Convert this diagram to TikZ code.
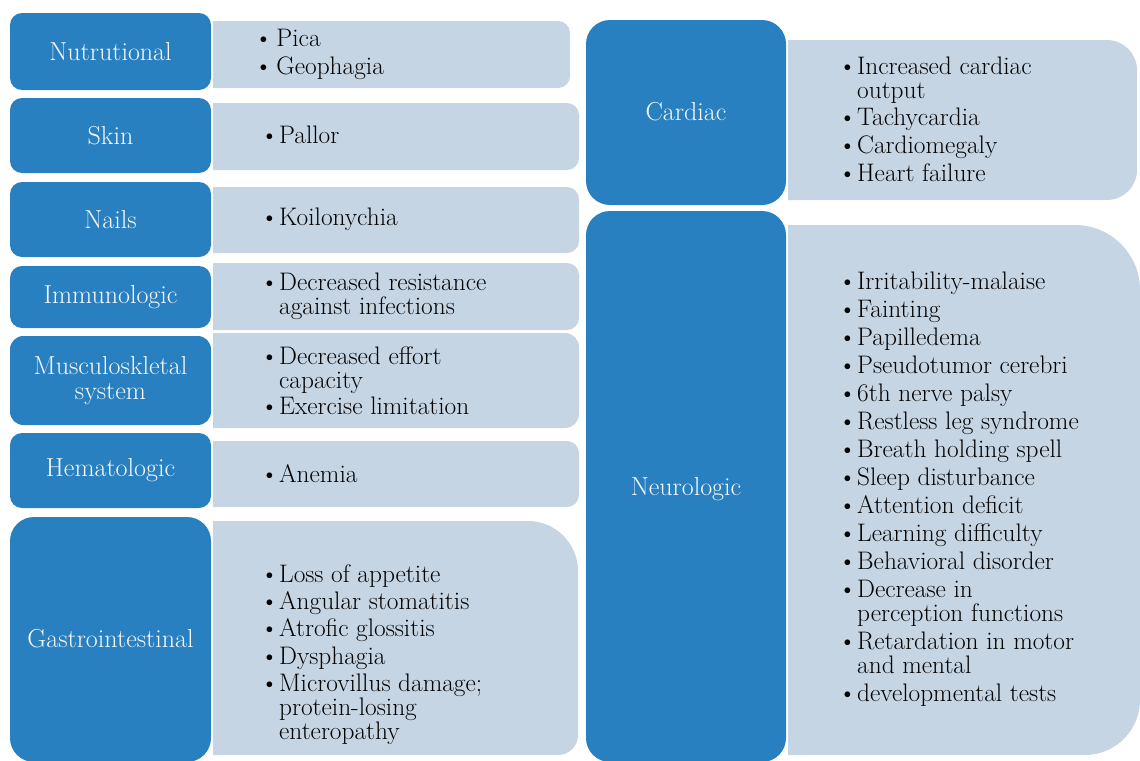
\documentclass[tikz,border=0pt]{standalone}
\usepackage{xcolor}
\definecolor{catblue}{RGB}{40,128,192}
\definecolor{itemgrey}{RGB}{198,213,228}
\definecolor{labelwhite}{RGB}{248,250,252}
\newcommand{\bul}{\textbullet\kern0.5pt}
\newcommand{\hng}{\hphantom{\textbullet\kern0.5pt}}
\tikzset{
  catbox/.style={fill=catblue},
  itembox/.style={fill=itemgrey},
  catlabel/.style={text=labelwhite, font=\fontsize{19.5}{19}\selectfont, align=center, inner sep=0pt},
  itemlist/.style={anchor=west, text=black, font=\fontsize{19}{18}\selectfont, align=left, inner sep=0pt}
}

\begin{document}
\begin{tikzpicture}[x=0.75pt,y=0.75pt,yscale=-1,xscale=1]
\useasboundingbox (0,0) rectangle (1140,761);

%Shape: Rounded Rect [Nutrutional]
\fill [catbox, rounded corners=9pt] (10,13) rectangle (211,90);
%Shape: Rounded Right [Nutrutional]
\fill [itembox] (213,21) -- (558,21) arc[start angle=-90,end angle=0,radius=12] -- (570,76) arc[start angle=0,end angle=90,radius=12] -- (213,88) -- cycle;
%Shape: Rounded Rect [Skin]
\fill [catbox, rounded corners=9pt] (10,98) rectangle (211,173);
%Shape: Rounded Right [Skin]
\fill [itembox] (213,103) -- (567,103) arc[start angle=-90,end angle=0,radius=12] -- (579,158) arc[start angle=0,end angle=90,radius=12] -- (213,170) -- cycle;
%Shape: Rounded Rect [Nails]
\fill [catbox, rounded corners=9pt] (10,182) rectangle (211,257);
%Shape: Rounded Right [Nails]
\fill [itembox] (213,187) -- (567,187) arc[start angle=-90,end angle=0,radius=12] -- (579,241) arc[start angle=0,end angle=90,radius=12] -- (213,253) -- cycle;
%Shape: Rounded Rect [Immunologic]
\fill [catbox, rounded corners=9pt] (10,266) rectangle (211,328);
%Shape: Rounded Right [Immunologic]
\fill [itembox] (213,263) -- (567,263) arc[start angle=-90,end angle=0,radius=12] -- (579,318) arc[start angle=0,end angle=90,radius=12] -- (213,330) -- cycle;
%Shape: Rounded Rect [Musculoskeletal]
\fill [catbox, rounded corners=10pt] (10,336) rectangle (211,425);
%Shape: Rounded Right [Musculoskeletal]
\fill [itembox] (213,333) -- (565,333) arc[start angle=-90,end angle=0,radius=14] -- (579,414) arc[start angle=0,end angle=90,radius=14] -- (213,428) -- cycle;
%Shape: Rounded Rect [Hematologic]
\fill [catbox, rounded corners=9pt] (10,433) rectangle (211,508);
%Shape: Rounded Right [Hematologic]
\fill [itembox] (213,441) -- (567,441) arc[start angle=-90,end angle=0,radius=12] -- (579,495) arc[start angle=0,end angle=90,radius=12] -- (213,507) -- cycle;
%Shape: Rounded Rect [Gastrointestinal]
\fill [catbox, rounded corners=18pt] (10,517) rectangle (211,762);
%Shape: Rounded Right [Gastrointestinal]
\fill [itembox] (213,521) -- (528,521) arc[start angle=-90,end angle=0,radius=50] -- (578,735) arc[start angle=0,end angle=90,radius=20] -- (213,755) -- cycle;

%Shape: Rounded Rect [Cardiac]
\fill [catbox, rounded corners=18pt] (586,20) rectangle (786,205);
%Shape: Rounded Right [Cardiac]
\fill [itembox] (788,40) -- (1107,40) arc[start angle=-90,end angle=0,radius=30] -- (1137,170) arc[start angle=0,end angle=90,radius=30] -- (788,200) -- cycle;
%Shape: Rounded Rect [Neurologic]
\fill [catbox, rounded corners=18pt] (586,211) rectangle (786,762);
%Shape: Rounded Right [Neurologic]
\fill [itembox] (788,225) -- (1075,225) arc[start angle=-90,end angle=0,radius=65] -- (1140,700) arc[start angle=0,end angle=90,radius=55] -- (788,755) -- cycle;

% Text Node
\node [catlabel] (nutr) at (110.5,51.5) {Nutrutional};
\node [catlabel] (skin) at (110.5,135.5) {Skin};
\node [catlabel] (nails) at (110.5,219.5) {Nails};
\node [catlabel] (immuno) at (110.5,297) {Immunologic};
\node [catlabel] (musc) at (110.5,380.5) {Musculoskletal\\system};
\node [catlabel] (hema) at (110.5,470) {Hematologic};
\node [catlabel] (gastro) at (110.5,639) {Gastrointestinal};
\node [catlabel] (cardiac) at (686,112) {Cardiac};
\node [catlabel] (neuro) at (686,489) {Neurologic};

% Text Node
\node [itemlist] (nutrlist) at (254,54) {\textbullet\kern3pt Pica\\[3pt]\textbullet\kern3pt Geophagia};
\node [itemlist] (skinlist) at (260,135) {\bul Pallor};
\node [itemlist] (nailslist) at (260,219) {\bul Koilonychia};
\node [itemlist] (immunolist) at (260,296) {\bul Decreased resistance\\\hng against infections};
\node [itemlist] (musclist) at (260,380.5) {\bul Decreased effort\\\hng capacity\\[1.5pt]\bul Exercise limitation};
\node [itemlist] (hemalist) at (260,474) {\bul Anemia};
\node [itemlist] (gastrolist) at (260,654.5) {\bul Loss of appetite\\[2.5pt]\bul Angular stomatitis\\[2.5pt]\bul Atrofic glossitis\\[2.5pt]\bul Dysphagia\\[2.5pt]\bul Microvillus damage;\\\hng protein-losing\\\hng enteropathy};
\node [itemlist] (cardiaclist) at (838,119) {\bul Increased cardiac\\\hng output\\[2pt]\bul Tachycardia\\[3pt]\bul Cardiomegaly\\[3pt]\bul Heart failure};
\node [itemlist] (neurolist) at (838,489) {\bul Irritability-malaise\\[3pt]\bul Fainting\\[3pt]\bul Papilledema\\[3pt]\bul Pseudotumor cerebri\\[3pt]\bul 6th nerve palsy\\[3pt]\bul Restless leg syndrome\\[3pt]\bul Breath holding spell\\[3pt]\bul Sleep disturbance\\[3pt]\bul Attention deficit\\[3pt]\bul Learning difficulty\\[3pt]\bul Behavioral disorder\\[3pt]\bul Decrease in\\\hng perception functions\\[3pt]\bul Retardation in motor\\\hng and mental\\[3pt]\bul developmental tests};

\end{tikzpicture}
\end{document}
